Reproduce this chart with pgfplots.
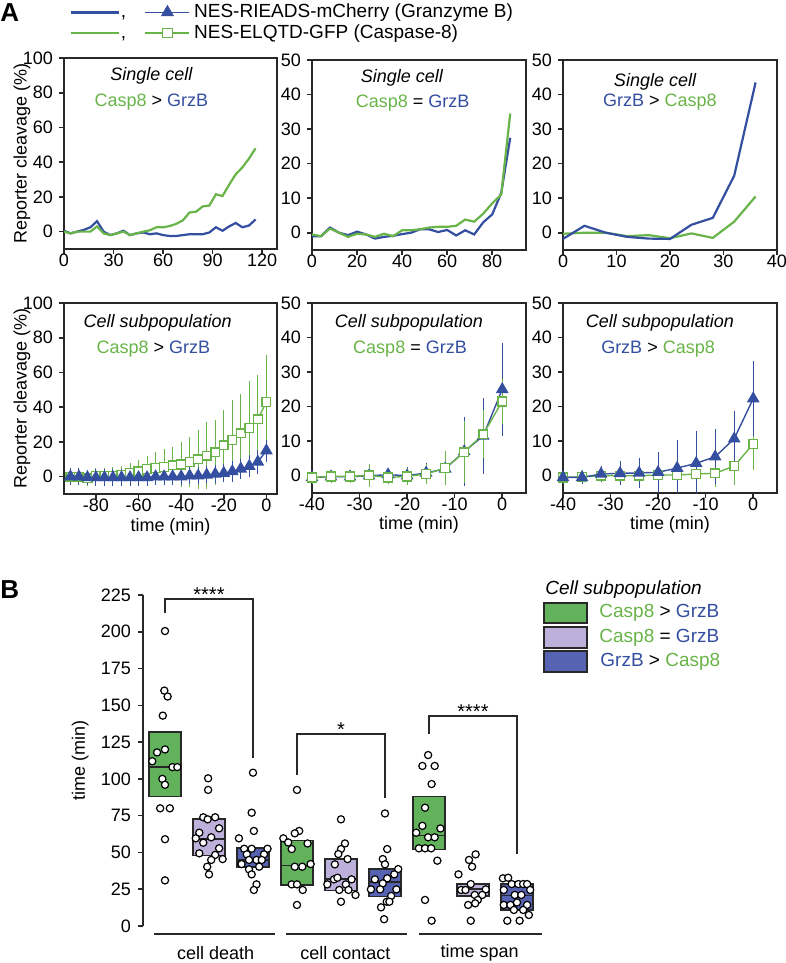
\documentclass[border=0pt]{standalone}
\usepackage{pgfplots}
\pgfplotsset{compat=1.18}
\usepgfplotslibrary{statistics}
\usepackage{fontspec}
\setmainfont{Liberation Sans}

\definecolor{cgreen}{RGB}{104,180,72}
\definecolor{cblue}{RGB}{52,78,160}
\definecolor{bgreen}{RGB}{98,178,92}
\definecolor{blav}{RGB}{189,176,218}
\definecolor{bblue}{RGB}{86,98,178}
\definecolor{axgray}{RGB}{40,40,40}

\newcommand{\f}{\fontsize{9}{10.8}\selectfont}

\pgfplotsset{
  panel/.style={
    scale only axis, anchor=south west,
    axis line style={axgray, line width=0.9pt},
    tick style={axgray, line width=0.8pt},
    major tick length=2.5pt,
    tick align=outside, xtick pos=bottom, ytick pos=left,
    tick label style={font=\f},
    xticklabel style={yshift=3.5pt},
    yticklabel style={xshift=0.5pt},
    label style={font=\f},
    /pgf/number format/assume math mode=true,
  },
  tlab/.style={xlabel={time (min)},
    xlabel style={at={(axis description cs:0.5,-0.17)}, anchor=center}},
  gline/.style={cgreen, line width=1.1pt},
  bline/.style={cblue, line width=1.1pt},
  gsub/.style={cgreen, line width=0.7pt, mark=square*, mark size=2.2pt,
    mark options={fill=white, solid},
    error bars/y dir=both, error bars/y explicit,
    error bars/error bar style={line width=0.5pt},
    error bars/error mark options={mark size=1.6pt, line width=0.5pt}},
  bsub/.style={cblue, line width=0.7pt, mark=triangle*, mark size=3pt,
    mark options={fill=cblue, solid},
    error bars/y dir=both, error bars/y explicit,
    error bars/error bar style={line width=0.5pt},
    error bars/error mark options={mark size=1.6pt, line width=0.5pt}},
  dots/.style={only marks, mark=*, mark size=1.8pt,
    mark options={fill=white, draw=black, line width=0.6pt}},
  bx/.style={fill=#1, draw=axgray, line width=0.8pt},
}

\begin{document}
\begin{tikzpicture}[font=\f]
\useasboundingbox (0,0) rectangle (393pt,481.5pt);

% ---------- A, top row: single cell
\begin{axis}[panel, at={(32pt,357pt)}, width=106.5pt, height=95.5pt,
  xmin=0, xmax=129, ymin=-10, ymax=100,
  xtick={0,30,...,120}, ytick={0,20,...,100},
  ylabel={Reporter cleavage (\%)},
  ylabel style={at={(axis description cs:-0.197,0.5)}, anchor=center},
  legend style={at={(axis description cs:0.028,1.063)}, anchor=south west,
    draw=none, fill=none, inner sep=0pt, row sep=-2pt,
    font=\fontsize{9.5}{11}\selectfont},
  legend cell align=left]
\addlegendimage{legend image code/.code={
  \draw[cblue, line width=1.1pt] (0pt,0pt) -- (24pt,0pt);
  \node[black, inner sep=0pt, anchor=base] at (26pt,-2.5pt) {,};
  \draw[cblue, line width=0.7pt] (37pt,0pt) -- (59pt,0pt);
  \draw[cblue, fill=cblue] plot[mark=triangle*, mark size=3.4pt] coordinates {(48pt,0pt)};}}
\addlegendentry{NES-RIEADS-mCherry (Granzyme B)}
\addlegendimage{legend image code/.code={
  \draw[cgreen, line width=1.1pt] (0pt,0pt) -- (24pt,0pt);
  \node[black, inner sep=0pt, anchor=base] at (26pt,-2.5pt) {,};
  \draw[cgreen, line width=0.7pt] (37pt,0pt) -- (59pt,0pt);
  \draw[cgreen, fill=white] plot[mark=square*, mark size=2.3pt] coordinates {(48pt,0pt)};}}
\addlegendentry{NES-ELQTD-GFP (Caspase-8)}
\addplot[bline] coordinates {(0,0.5) (4,-1) (8,0) (12,1) (16,2.5) (20,6) (24,0) (28,-2) (32,-1) (36,0.5) (40,-2) (44,-1) (48,-0.5) (52,-1.5) (56,-1) (60,-2) (64,-2.5) (68,-2.5) (72,-2) (76,-1.5) (80,-1.5) (84,-1.5) (88,-0.5) (92,2.5) (96,0.5) (100,3) (104,5) (108,2.5) (112,3.5) (116,7)};
\addplot[gline] coordinates {(0,0) (4,-1) (8,0) (12,0) (16,0) (20,3) (24,-1) (28,-2) (32,-1) (36,0) (40,-2) (44,-1) (48,0) (52,0.8) (56,2.5) (60,2.5) (64,3.2) (68,4.5) (72,6.5) (76,11) (80,11.5) (84,14.5) (88,15) (92,21.5) (96,20.5) (100,27) (104,33) (108,37) (112,42) (116,48)};
\node[font=\f\itshape] at (axis description cs:0.41,0.906) {Single cell};
\node at (axis description cs:0.41,0.77) {\textcolor{cgreen}{Casp8} > \textcolor{cblue}{GrzB}};
\end{axis}

\begin{axis}[panel, at={(156pt,356.5pt)}, width=107pt, height=95pt,
  xmin=0, xmax=95, ymin=-5, ymax=50,
  xtick={0,20,...,80}, ytick={0,10,...,50}]
\addplot[bline] coordinates {(0,-1) (4,-1) (8,1.5) (12,0) (16,-0.7) (20,0.3) (24,-0.5) (28,-1.7) (32,-1.2) (36,-0.9) (40,-0.4) (44,0) (48,1) (52,1) (56,0.2) (60,0.8) (64,-0.8) (68,0.7) (72,-0.5) (76,3) (80,5.3) (84,11.5) (88,27.5)};
\addplot[gline] coordinates {(0,-0.5) (4,-1) (8,1.2) (12,0) (16,-1.2) (20,-0.3) (24,-0.5) (28,-1.2) (32,-0.3) (36,-1) (40,0.7) (44,0.7) (48,1) (52,1.5) (56,1.7) (60,1.7) (64,2) (68,3.8) (72,3.2) (76,5.5) (80,8.5) (84,11) (88,34.5)};
\node[font=\f\itshape] at (axis description cs:0.42,0.905) {Single cell};
\node at (axis description cs:0.47,0.774) {\textcolor{cgreen}{Casp8} = \textcolor{cblue}{GrzB}};
\end{axis}

\begin{axis}[panel, at={(281.5pt,356.5pt)}, width=107pt, height=95pt,
  xmin=0, xmax=40, ymin=-5, ymax=50,
  xtick={0,10,...,40}, ytick={0,10,...,50}]
\addplot[gline] coordinates {(0,-0.3) (4,0) (8,0) (12,-1) (16,-0.7) (20,-1.6) (24,-0.2) (28,-1.5) (32,3.2) (36,10.5)};
\addplot[bline] coordinates {(0,-1.8) (4,2) (8,0) (12,-1.2) (16,-1.7) (20,-1.8) (24,2.3) (28,4.3) (32,16.5) (36,43.5)};
\node[font=\f\itshape] at (axis description cs:0.43,0.884) {Single cell};
\node at (axis description cs:0.453,0.779) {\textcolor{cblue}{GrzB} > \textcolor{cgreen}{Casp8}};
\end{axis}

% ---------- A, bottom row: cell subpopulation
\begin{axis}[panel, tlab, at={(32pt,234.5pt)}, width=106.5pt, height=95.5pt,
  xmin=-95, xmax=5, ymin=-10, ymax=100,
  xtick={-80,-60,...,0}, ytick={0,20,...,100},
  ylabel={Reporter cleavage (\%)},
  ylabel style={at={(axis description cs:-0.197,0.5)}, anchor=center}]
\addplot[gsub] coordinates {(-92,0) +- (0,2.5) (-88,0) +- (0,2.5) (-84,-1) +- (0,2.5) (-80,0.5) +- (0,2.5) (-76,0.5) +- (0,2.5) (-72,0.5) +- (0,3) (-68,1) +- (0,3.5) (-64,2) +- (0,4) (-60,3) +- (0,5) (-56,4.5) +- (0,5.5) (-52,5) +- (0,7.5) (-48,5.5) +- (0,8.5) (-44,6.5) +- (0,9) (-40,7) +- (0,11) (-36,8.5) +- (0,12.5) (-32,10) +- (0,15) (-28,12) +- (0,17.5) (-24,14) +- (0,17) (-20,18) +- (0,18.5) (-16,21) +- (0,21.5) (-12,25) +- (0,21) (-8,28) +- (0,25) (-4,33) +- (0,23.5) (0,43) +- (0,25)};
\addplot[bsub] coordinates {(-92,0) +- (0,3) (-88,0) +- (0,3) (-84,-0.5) +- (0,2.5) (-80,-0.5) +- (0,3) (-76,-0.5) +- (0,3) (-72,-0.5) +- (0,3) (-68,-0.5) +- (0,3) (-64,-0.5) +- (0,3) (-60,-0.5) +- (0,3) (-56,-0.5) +- (0,3) (-52,0) +- (0,3) (-48,0) +- (0,3) (-44,0) +- (0,3) (-40,0) +- (0,3) (-36,0.5) +- (0,3) (-32,0.5) +- (0,3) (-28,1) +- (0,3) (-24,1.5) +- (0,3.5) (-20,2) +- (0,3.5) (-16,3) +- (0,4) (-12,4.5) +- (0,4) (-8,6) +- (0,4.5) (-4,8.5) +- (0,5) (0,15) +- (0,4.5)};
\node[font=\f\itshape] at (axis description cs:0.44,0.895) {Cell subpopulation};
\node at (axis description cs:0.42,0.76) {\textcolor{cgreen}{Casp8} > \textcolor{cblue}{GrzB}};
\end{axis}

\begin{axis}[panel, tlab, at={(156pt,235pt)}, width=107pt, height=95pt,
  xmin=-40, xmax=5, ymin=-5, ymax=50,
  xtick={-40,-30,...,0}, ytick={0,10,...,50}]
\addplot[bsub] coordinates {(-40,-0.5) +- (0,1) (-36,-0.3) +- (0,1) (-32,-0.3) +- (0,1) (-28,0) +- (0,1.5) (-24,0.3) +- (0,1) (-20,0) +- (0,1.5) (-16,0.8) +- (0,2) (-12,2) +- (0,3.5) (-8,7) +- (0,9) (-4,11.5) +- (0,10) (0,25) +- (0,12.5)};
\addplot[gsub] coordinates {(-40,-0.5) +- (0,1) (-36,-0.2) +- (0,1) (-32,-0.2) +- (0,1) (-28,0.1) +- (0,2.5) (-24,-0.5) +- (0,1) (-20,-0.2) +- (0,1.5) (-16,0.5) +- (0,2) (-12,2.2) +- (0,4) (-8,6.8) +- (0,8) (-4,12) +- (0,6) (0,21.5) +- (0,5.5)};
\node[font=\f\itshape] at (axis description cs:0.453,0.895) {Cell subpopulation};
\node at (axis description cs:0.458,0.758) {\textcolor{cgreen}{Casp8} = \textcolor{cblue}{GrzB}};
\end{axis}

\begin{axis}[panel, tlab, at={(281.5pt,235pt)}, width=107pt, height=95pt,
  xmin=-40, xmax=5, ymin=-5, ymax=50,
  xtick={-40,-30,...,0}, ytick={0,10,...,50}]
\addplot[gsub] coordinates {(-40,-0.5) +- (0,1) (-36,-0.3) +- (0,1) (-32,0) +- (0,1) (-28,0) +- (0,1.5) (-24,0) +- (0,2.5) (-20,0.2) +- (0,2) (-16,0.2) +- (0,2) (-12,0.5) +- (0,2.5) (-8,0.7) +- (0,3) (-4,2.8) +- (0,4.5) (0,9.2) +- (0,6.5)};
\addplot[bsub] coordinates {(-40,-0.5) +- (0,1) (-36,-0.5) +- (0,1) (-32,0.5) +- (0,1.5) (-28,0.7) +- (0,2.5) (-24,0.8) +- (0,3.5) (-20,1) +- (0,5) (-16,2.2) +- (0,7.3) (-12,3.6) +- (0,8.3) (-8,5.5) +- (0,7) (-4,10.7) +- (0,7) (0,22.3) +- (0,10)};
\node[font=\f\itshape] at (axis description cs:0.453,0.895) {Cell subpopulation};
\node at (axis description cs:0.444,0.758) {\textcolor{cblue}{GrzB} > \textcolor{cgreen}{Casp8}};
\end{axis}

% ---------- B
\begin{axis}[scale only axis, anchor=south west, at={(71.5pt,18.5pt)},
  width=200.2pt, height=165.5pt,
  xmin=0.5, xmax=9.6, ymin=0, ymax=225,
  axis x line=none, axis y line*=left,
  axis line style={axgray, line width=0.9pt},
  tick style={axgray, line width=0.8pt}, major tick length=2.5pt,
  tick align=outside, ytick={0,25,...,225},
  tick label style={font=\f}, /pgf/number format/assume math mode=true,
  ylabel={time (min)}, label style={font=\f},
  ylabel style={at={(axis description cs:-0.157,0.5)}, anchor=center},
  boxplot/draw direction=y, clip=false]
% boxes: quartiles and median, no whiskers
\addplot[bx=bgreen, boxplot prepared={draw position=1, lower whisker=88, lower quartile=88, median=108, upper quartile=132, upper whisker=132, box extend=0.72, whisker extend=0}] coordinates {};
\addplot[bx=blav, boxplot prepared={draw position=2, lower whisker=48, lower quartile=48, median=59, upper quartile=72.7, upper whisker=72.7, box extend=0.72, whisker extend=0}] coordinates {};
\addplot[bx=bblue, boxplot prepared={draw position=3, lower whisker=40, lower quartile=40, median=45, upper quartile=53, upper whisker=53, box extend=0.72, whisker extend=0}] coordinates {};
\addplot[bx=bgreen, boxplot prepared={draw position=4, lower whisker=28, lower quartile=28, median=41, upper quartile=58, upper whisker=58, box extend=0.72, whisker extend=0}] coordinates {};
\addplot[bx=blav, boxplot prepared={draw position=5, lower whisker=24, lower quartile=24, median=32, upper quartile=45.5, upper whisker=45.5, box extend=0.72, whisker extend=0}] coordinates {};
\addplot[bx=bblue, boxplot prepared={draw position=6, lower whisker=20, lower quartile=20, median=30, upper quartile=38.7, upper whisker=38.7, box extend=0.72, whisker extend=0}] coordinates {};
\addplot[bx=bgreen, boxplot prepared={draw position=7, lower whisker=52, lower quartile=52, median=61.5, upper quartile=88, upper whisker=88, box extend=0.72, whisker extend=0}] coordinates {};
\addplot[bx=blav, boxplot prepared={draw position=8, lower whisker=20.4, lower quartile=20.4, median=25, upper quartile=28.5, upper whisker=28.5, box extend=0.72, whisker extend=0}] coordinates {};
\addplot[bx=bblue, boxplot prepared={draw position=9, lower whisker=11, lower quartile=11, median=20.6, upper quartile=28.5, upper whisker=28.5, box extend=0.72, whisker extend=0}] coordinates {};
% individual cells
\addplot[dots] coordinates {(1.00,200.5) (0.985,160) (1.06,156) (0.95,143) (1.00,120) (0.82,118) (0.71,112) (1.17,108) (1.28,108) (0.94,100) (1.00,96) (0.89,80) (1.11,80) (1.00,59) (1.00,31)};
\addplot[dots] coordinates {(1.98,100.4) (1.98,92.5) (1.87,73.9) (1.97,72.5) (2.14,73.9) (2.23,66.4) (1.78,63.4) (1.70,59.6) (2.05,60.3) (1.87,56.6) (2.23,52.8) (1.78,49.4) (2.14,48.3) (2.31,45.5) (2.05,44.9) (1.96,40.3) (2.00,35.1)};
\addplot[dots] coordinates {(3.00,104.2) (2.97,77) (3.02,64.6) (2.68,59.6) (2.80,52.5) (2.97,52.5) (3.33,52.5) (2.86,48.7) (3.25,48.7) (2.91,44.9) (3.08,44.9) (3.20,44.9) (2.74,42.1) (3.14,40.3) (2.91,38.5) (2.97,35.1) (3.08,28.3) (3.02,24.5)};
\addplot[dots] coordinates {(4.00,92.5) (4.05,64.6) (3.95,63) (3.69,59.6) (3.80,56.8) (4.24,56.1) (3.88,52.3) (3.95,40.3) (4.12,40.3) (4.31,42.1) (3.88,28.3) (4.00,28.3) (4.13,24.5) (4.00,14.3)};
\addplot[dots] coordinates {(5.00,72.5) (5.09,56.1) (5.00,52.3) (4.94,48.9) (5.15,45.5) (4.86,41.9) (4.84,31.7) (4.92,32.8) (5.24,31.7) (4.69,28.3) (5.11,28.3) (4.96,24.5) (5.17,24.5) (5.33,21.1) (5.00,16.5)};
\addplot[dots] coordinates {(6.00,76.5) (6.05,52.3) (5.95,45.5) (6.00,41.9) (6.30,38.7) (6.21,35.1) (5.77,31.7) (6.05,32.4) (5.95,29) (5.68,24.9) (5.89,24.9) (6.26,24.9) (6.14,20.4) (6.04,16.5) (6.10,16.5) (5.91,12.7) (5.98,4.6)};
\addplot[dots] coordinates {(6.98,116.2) (6.85,108.8) (7.13,108.8) (7.06,96.5) (6.91,80.4) (6.85,68.1) (7.26,66.3) (6.71,63.4) (6.98,60.3) (7.13,60.3) (6.77,52.8) (6.91,52.8) (7.05,52.8) (7.19,44.4) (6.91,17.7) (7.06,3.6)};
\addplot[dots] coordinates {(8.06,48.7) (7.91,44.9) (7.98,40.3) (7.67,35.1) (7.95,28.5) (7.73,24.5) (7.83,24.5) (8.29,24.9) (8.21,21.1) (8.04,21.1) (8.11,17.7) (8.05,15.4) (7.89,14.3) (7.95,3.6)};
\addplot[dots] coordinates {(8.68,32.4) (8.80,32.8) (8.88,28.5) (9.03,28.5) (9.14,28.5) (9.23,28.5) (8.70,24.5) (9.30,24.5) (8.95,21.1) (9.10,21.1) (9.00,16) (8.70,14.3) (8.85,14.3) (9.23,14.3) (9.14,10.9) (8.93,10.9) (9.27,7.5) (8.78,3.6) (9.06,3.6)};
% significance brackets
\addplot[axgray, line width=0.9pt] coordinates {(1,212.8) (1,222.3) (3,222.3) (3,114.2)};
\addplot[axgray, line width=0.9pt] coordinates {(4,102.6) (4,130.5) (6,130.5) (6,87)};
\addplot[axgray, line width=0.9pt] coordinates {(7,130.5) (7,142.8) (9,142.8) (9,49)};
\node[anchor=base, font=\fontsize{10}{12}\selectfont] at (axis cs:2,220.3) {****};
\node[anchor=base, font=\fontsize{10}{12}\selectfont] at (axis cs:5,128.5) {*};
\node[anchor=base, font=\fontsize{10}{12}\selectfont] at (axis cs:8,140.8) {****};
% group lines and names
\addplot[axgray, line width=0.9pt] coordinates {(0.75,-5.4) (3.5,-5.4)};
\addplot[axgray, line width=0.9pt] coordinates {(3.75,-5.4) (6.5,-5.4)};
\addplot[axgray, line width=0.9pt] coordinates {(6.77,-5.4) (9.57,-5.4)};
\node at (axis cs:2.15,-18.4) {cell death};
\node at (axis cs:5.1,-18.4) {cell contact};
\node at (axis cs:8.15,-18.4) {time span};
\end{axis}

% legend of B
\node[anchor=west, inner sep=0pt, font=\fontsize{9.5}{11}\selectfont\itshape] at (272.5pt,186.5pt) {Cell subpopulation};
\draw[axgray, line width=0.8pt, fill=bgreen] (272pt,170pt) rectangle (293.5pt,180pt);
\draw[axgray, line width=0.8pt, fill=blav] (272pt,157.5pt) rectangle (293.5pt,168pt);
\draw[axgray, line width=0.8pt, fill=bblue] (272pt,145.5pt) rectangle (293.5pt,156pt);
\begin{scope}[every node/.style={anchor=west, inner sep=0pt, font=\fontsize{9.5}{11}\selectfont}]
\node at (299.5pt,175pt) {\textcolor{cgreen}{Casp8} > \textcolor{cblue}{GrzB}};
\node at (299.5pt,162.75pt) {\textcolor{cgreen}{Casp8} = \textcolor{cblue}{GrzB}};
\node at (300pt,150.75pt) {\textcolor{cblue}{GrzB} > \textcolor{cgreen}{Casp8}};
\end{scope}

% panel letters
\node[anchor=west, inner sep=0pt, font=\fontsize{13}{13}\selectfont\bfseries] at (0pt,475pt) {A};
\node[anchor=west, inner sep=0pt, font=\fontsize{13}{13}\selectfont\bfseries] at (0pt,186.5pt) {B};
\end{tikzpicture}
\end{document}
